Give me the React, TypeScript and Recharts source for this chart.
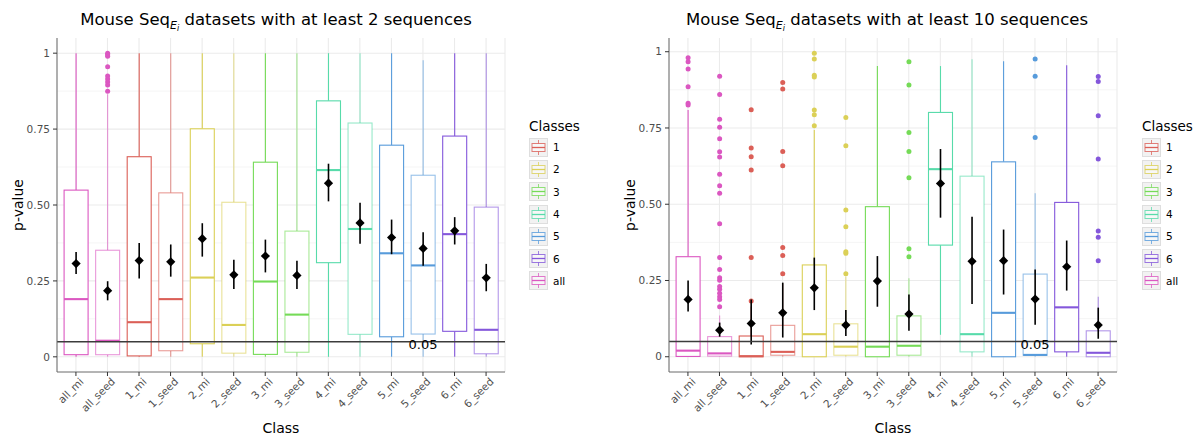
import React from 'react';
import { ComposedChart, Bar, XAxis, YAxis, CartesianGrid, ReferenceLine, ReferenceDot } from 'recharts';

const FONT = "'DejaVu Sans', sans-serif";

const categories = ['all_mi', 'all_seed', '1_mi', '1_seed', '2_mi', '2_seed', '3_mi', '3_seed', '4_mi', '4_seed', '5_mi', '5_seed', '6_mi', '6_seed'];
const legendClasses = ['1', '2', '3', '4', '5', '6', 'all'];
const classColors = ['#db5f57', '#dbd057', '#75db57', '#57dbaa', '#579bdb', '#8457db', '#db57c1'];
const yTicks = [0, 0.25, 0.5, 0.75, 1];
const minorTicks = [0.125, 0.375, 0.625, 0.875];

// Panel A: datasets with at least 2 sequences
const aLow = [0, 0, 0, 0, 0, 0, 0, 0, 0, 0, 0, 0, 0, 0];
const aQ1 = [0.007, 0.007, 0.003, 0.02, 0.043, 0.012, 0.008, 0.015, 0.31, 0.074, 0.066, 0.075, 0.084, 0.01];
const aMedian = [0.19, 0.053, 0.114, 0.19, 0.261, 0.105, 0.248, 0.139, 0.615, 0.421, 0.341, 0.301, 0.404, 0.089];
const aQ3 = [0.549, 0.351, 0.659, 0.54, 0.751, 0.509, 0.641, 0.414, 0.843, 0.77, 0.697, 0.598, 0.727, 0.493];
const aHigh = [1, 0.865, 1, 1, 1, 1, 1, 1, 1, 1, 1, 0.977, 1, 1];
const aMean = [0.307, 0.218, 0.317, 0.313, 0.389, 0.27, 0.332, 0.268, 0.572, 0.441, 0.393, 0.357, 0.415, 0.26];
const aMeanLow = [0.273, 0.186, 0.258, 0.264, 0.33, 0.223, 0.278, 0.223, 0.512, 0.372, 0.338, 0.3, 0.37, 0.216];
const aMeanHigh = [0.345, 0.249, 0.375, 0.37, 0.44, 0.32, 0.386, 0.316, 0.636, 0.507, 0.452, 0.41, 0.46, 0.306];
const aOutliers: number[][] = [
  [], [1.0, 0.995, 0.99, 0.955, 0.925, 0.915, 0.905, 0.895, 0.875], [], [], [], [], [], [], [], [], [], [], [], [],
];

// Panel B: datasets with at least 10 sequences
const bLow = [0, 0, 0, 0, 0, 0, 0, 0, 0.072, 0, 0, 0, 0, 0];
const bQ1 = [0.001, 0.002, 0.0, 0.005, 0.0, 0.005, 0.0, 0.005, 0.366, 0.016, 0.0, 0.005, 0.016, 0.0];
const bMedian = [0.02, 0.011, 0.002, 0.016, 0.074, 0.033, 0.033, 0.036, 0.615, 0.074, 0.144, 0.006, 0.162, 0.013];
const bQ3 = [0.328, 0.066, 0.068, 0.103, 0.301, 0.108, 0.492, 0.134, 0.801, 0.592, 0.639, 0.271, 0.506, 0.085];
const bHigh = [0.809, 0.135, 0.165, 0.24, 0.743, 0.262, 0.953, 0.257, 0.953, 0.975, 0.969, 0.536, 0.956, 0.197];
const bMean = [0.188, 0.087, 0.109, 0.144, 0.226, 0.104, 0.248, 0.14, 0.568, 0.313, 0.315, 0.189, 0.295, 0.104];
const bMeanLow = [0.148, 0.066, 0.04, 0.063, 0.153, 0.068, 0.164, 0.085, 0.456, 0.173, 0.204, 0.105, 0.217, 0.059];
const bMeanHigh = [0.25, 0.112, 0.188, 0.243, 0.325, 0.153, 0.33, 0.204, 0.681, 0.459, 0.417, 0.286, 0.381, 0.161];
const bOutliers: number[][] = [
  [0.98, 0.967, 0.943, 0.885, 0.831, 0.825],
  [0.92, 0.86, 0.779, 0.752, 0.715, 0.672, 0.655, 0.598, 0.561, 0.536, 0.436, 0.325, 0.286, 0.259, 0.251, 0.23, 0.221, 0.208, 0.197, 0.188, 0.164],
  [0.81, 0.684, 0.656, 0.612, 0.325, 0.183],
  [0.899, 0.878, 0.673, 0.626, 0.358, 0.332, 0.272],
  [0.995, 0.976, 0.923, 0.917, 0.809, 0.793, 0.757],
  [0.784, 0.692, 0.481, 0.426, 0.344, 0.339, 0.272],
  [],
  [0.967, 0.891, 0.735, 0.673, 0.587, 0.354, 0.328],
  [],
  [],
  [],
  [0.976, 0.92, 0.719],
  [],
  [0.919, 0.902, 0.79, 0.648, 0.412, 0.392, 0.315],
];

function colorOf(cat: string) {
  const cls = cat.split('_')[0];
  return classColors[legendClasses.indexOf(cls)];
}

function buildRows(low: number[], q1: number[], med: number[], q3: number[], high: number[], mean: number[], mLow: number[], mHigh: number[], outl: number[][]) {
  return categories.map((cat, i) => {
    const all = [low[i], high[i], mLow[i], mHigh[i], ...outl[i]];
    return {
      cat,
      low: low[i], q1: q1[i], med: med[i], q3: q3[i], high: high[i],
      mean: mean[i], mLow: mLow[i], mHigh: mHigh[i], outliers: outl[i],
      rangeLo: Math.min(...all), rangeHi: Math.max(...all),
    };
  });
}

const rowsA = buildRows(aLow, aQ1, aMedian, aQ3, aHigh, aMean, aMeanLow, aMeanHigh, aOutliers);
const rowsB = buildRows(bLow, bQ1, bMedian, bQ3, bHigh, bMean, bMeanLow, bMeanHigh, bOutliers);

const BoxShape = (props: any) => {
  const { x, y, width, height, payload } = props;
  if (!payload) return null;
  const top = Math.min(y, y + height);
  const bottom = Math.max(y, y + height);
  const span = payload.rangeHi - payload.rangeLo;
  const k = span > 0 ? (bottom - top) / span : 0;
  const Y = (v: number) => top + (payload.rangeHi - v) * k;
  const cx = x + width / 2;
  const col = colorOf(payload.cat);
  const seed = payload.cat.endsWith('_seed');
  const op = seed ? 0.62 : 1;
  const d = 4.6;
  const my = Y(payload.mean);
  return (
    <g>
      <line x1={cx} x2={cx} y1={Y(payload.high)} y2={Y(payload.q3)} stroke={col} strokeOpacity={op} strokeWidth={1.1} />
      <line x1={cx} x2={cx} y1={Y(payload.q1)} y2={Y(payload.low)} stroke={col} strokeOpacity={op} strokeWidth={1.1} />
      <rect x={x} y={Y(payload.q3)} width={width} height={Y(payload.q1) - Y(payload.q3)} fill="#ffffff" stroke={col} strokeOpacity={op} strokeWidth={1.1} />
      <line x1={x} x2={x + width} y1={Y(payload.med)} y2={Y(payload.med)} stroke={col} strokeWidth={2.1} />
      {payload.outliers.map((v: number, j: number) => (
        <circle key={j} cx={cx} cy={Y(v)} r={2.5} fill={col} />
      ))}
      <line x1={cx} x2={cx} y1={Y(payload.mHigh)} y2={Y(payload.mLow)} stroke="#000" strokeWidth={1.6} />
      <polygon points={`${cx},${my - d} ${cx + d},${my} ${cx},${my + d} ${cx - d},${my}`} fill="#000" />
    </g>
  );
};

const XTick = (props: any) => {
  const { x, y, payload } = props;
  const tx = x + 3;
  const ty = y + 1;
  return (
    <text x={tx} y={ty} dy="0.72em" transform={`rotate(-45, ${tx}, ${ty})`} textAnchor="end" fontSize={10.5} fill="#4d4d4d" fontFamily={FONT}>
      {payload.value}
    </text>
  );
};

const fmtY = (v: number) => (v === 0 ? '0' : v === 1 ? '1' : v.toFixed(2));

function Panel({ rows, domain, width, yWidth, rightMargin }: any) {
  return (
    <ComposedChart width={width} height={440} data={rows} margin={{ top: 38, right: rightMargin, bottom: 0, left: 0 }} barCategoryGap="12.5%">
      <CartesianGrid stroke="#f3f3f3" strokeWidth={0.8} vertical={false} horizontalValues={minorTicks} />
      <CartesianGrid stroke="#ebebeb" strokeWidth={1.1} horizontalValues={yTicks} />
      <XAxis
        dataKey="cat"
        type="category"
        height={68}
        padding={{ left: 3.15, right: 3.15 }}
        interval={0}
        tickSize={4}
        tickMargin={0}
        tick={<XTick />}
        tickLine={{ stroke: '#333' }}
        axisLine={{ stroke: '#6a6a6a' }}
        label={{
          content: (p: any) => {
            const vb = p.viewBox;
            return (
              <text x={vb.x + vb.width / 2} y={vb.y + 56} textAnchor="middle" dominantBaseline="central" fontSize={14} fill="#000" fontFamily={FONT}>
                Class
              </text>
            );
          },
        }}
      />
      <XAxis xAxisId="top" dataKey="cat" orientation="top" height={0} tick={false} tickLine={false} axisLine={{ stroke: '#6a6a6a' }} padding={{ left: 3.15, right: 3.15 }} />
      <YAxis
        type="number"
        domain={domain}
        allowDataOverflow
        ticks={yTicks}
        width={yWidth}
        tickSize={4}
        tickMargin={3}
        tickFormatter={fmtY}
        tick={{ fontSize: 10.5, fill: '#4d4d4d', fontFamily: FONT }}
        tickLine={{ stroke: '#333' }}
        axisLine={{ stroke: '#6a6a6a' }}
        label={{
          content: (p: any) => {
            const vb = p.viewBox;
            const cx = vb.x + vb.width - 39;
            const cy = vb.y + vb.height / 2;
            return (
              <text x={cx} y={cy} transform={`rotate(-90, ${cx}, ${cy})`} textAnchor="middle" dominantBaseline="central" fontSize={14} fill="#000" fontFamily={FONT}>
                p-value
              </text>
            );
          },
        }}
      />
      <YAxis yAxisId="r" orientation="right" width={0} tick={false} tickLine={false} axisLine={{ stroke: '#6a6a6a' }} domain={domain} />
      <Bar dataKey={(d: any) => [d.rangeLo, d.rangeHi]} shape={<BoxShape />} isAnimationActive={false} />
      <ReferenceLine y={0.05} stroke="#3c3c3c" strokeWidth={1.5} />
      <ReferenceDot x="5_seed" y={0.05} r={0} fill="none" stroke="none" label={{ value: '0.05', position: 'center', fontSize: 13, fill: '#000', fontFamily: FONT, dy: 3 }} />
    </ComposedChart>
  );
}

function LegendBlock({ left, top }: { left: number; top: number }) {
  return (
    <div style={{ position: 'absolute', left, top, fontFamily: FONT, color: '#000' }}>
      <div style={{ fontSize: 13.5, lineHeight: '16px', height: 18 }}>Classes</div>
      {legendClasses.map((c, i) => (
        <div key={c} style={{ display: 'flex', alignItems: 'center', height: 22.3 }}>
          <svg width={19} height={19} style={{ display: 'block' }}>
            <rect x={0.5} y={0.5} width={18} height={18} fill="#f2f2f2" stroke="#dedede" />
            <line x1={9.5} x2={9.5} y1={2} y2={17} stroke={classColors[i]} strokeOpacity={0.75} strokeWidth={1} />
            <rect x={3} y={5.5} width={13} height={8} fill="#f7f7f7" stroke={classColors[i]} strokeOpacity={0.8} strokeWidth={1} />
            <line x1={3} x2={16} y1={9.5} y2={9.5} stroke={classColors[i]} strokeWidth={1.3} />
          </svg>
          <span style={{ marginLeft: 5, fontSize: 10.5 }}>{c}</span>
        </div>
      ))}
    </div>
  );
}

function Title({ center, text }: { center: number; text: string }) {
  return (
    <div style={{ position: 'absolute', left: center - 280, top: 10, width: 560, textAlign: 'center', fontFamily: FONT, fontSize: 16.5, lineHeight: '19px', color: '#000', whiteSpace: 'nowrap' }}>
      Mouse Seq
      <span style={{ fontSize: 11, fontStyle: 'italic', position: 'relative', top: 4 }}>
        E<span style={{ fontSize: 8, position: 'relative', top: 2 }}>i</span>
      </span>
      {' ' + text}
    </div>
  );
}

export default function App() {
  return (
    <div style={{ position: 'absolute', left: 0, top: 0, width: 1203, height: 440, background: '#fff', overflow: 'hidden' }}>
      <div style={{ position: 'absolute', left: 0, top: 0 }}>
        <Panel rows={rowsA} domain={[-0.05, 1.05]} width={600} yWidth={57} rightMargin={95} />
      </div>
      <div style={{ position: 'absolute', left: 600, top: 0 }}>
        <Panel rows={rowsB} domain={[-0.05, 1.045]} width={603} yWidth={69} rightMargin={86} />
      </div>
      <Title center={276} text="datasets with at least 2 sequences" />
      <Title center={887} text="datasets with at least 10 sequences" />
      <LegendBlock left={529} top={118} />
      <LegendBlock left={1142} top={118} />
    </div>
  );
}
